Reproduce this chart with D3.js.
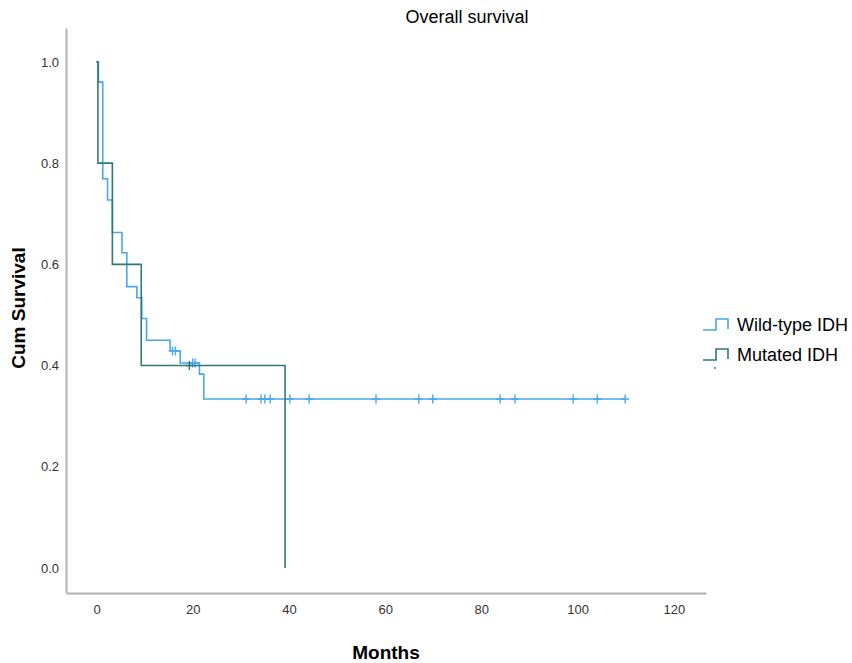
<!DOCTYPE html>
<html lang="en">
<head>
	<meta charset="UTF-8">
	<title>Overall survival</title>
	<script src="https://cdn.jsdelivr.net/npm/d3@7"></script>
	<style>
		html, body{
			margin: 0;
			background: #fff;
		}
		svg{
			display: block;
			font-family: "Liberation Sans", Arial, sans-serif;
		}
		.axis text{
			font-size: 13px;
			fill: #333;
		}
		.axis path{
			stroke: #b3b3b3;
			stroke-width: 2;
		}
	</style>
</head>
<body>
	<div class="chart"></div>
	<script>
		// Kaplan-Meier steps (months, cumulative survival)
		var wtTime = [0, 0.4, 1.3, 2.3, 3.3, 5.3, 6.3, 8.4, 9.4, 10.4, 15.3, 17.4, 21.4, 22.3, 110];
		var wtSurv = [1.0, 0.96, 0.769, 0.727, 0.663, 0.623, 0.556, 0.534, 0.493, 0.450, 0.429, 0.405, 0.383, 0.334, 0.334];
		var wtCensor = [15.8, 16.4, 20.0, 20.5, 31.1, 34.2, 35.0, 36.1, 40.2, 44.2, 58.1, 67.0, 69.9, 83.9, 87.0, 99.1, 104.1, 109.9];

		var mutTime = [0, 0.3, 3.3, 9.3, 39.2, 39.2];
		var mutSurv = [1.0, 0.8, 0.6, 0.4, 0.0, 0.0];
		var mutCensor = [19.3];

		var groups = ['Wild-type IDH', 'Mutated IDH'];
		var colors = ['#49a7ea', '#2e7a74'];
		var yTicks = [0, 0.2, 0.4, 0.6, 0.8, 1.0];
		var xTicks = [0, 20, 40, 60, 80, 100, 120];

		var width = 852;
		var height = 663;
		var plot = { left: 66, right: 706, top: 28, bottom: 593 };

		var xScale = d3.scaleLinear()
						.domain([-6.34, 126.7])
						.range([plot.left, plot.right]);
		var yScale = d3.scaleLinear()
						.domain([-0.0494, 1.067])
						.range([plot.bottom, plot.top]);

		var svg = d3.select('.chart')
					.append('svg')
					.attr('width', width)
					.attr('height', height);

		var yAxis = d3.axisLeft(yScale)
						.tickValues(yTicks)
						.tickFormat(d3.format('.1f'))
						.tickSizeInner(0)
						.tickSizeOuter(0)
						.tickPadding(7);
		var xAxis = d3.axisBottom(xScale)
						.tickValues(xTicks)
						.tickSizeInner(0)
						.tickSizeOuter(0)
						.tickPadding(12);

		svg.append('g')
			.attr('class', 'axis')
			.attr('transform', 'translate(' + plot.left + ',0)')
			.call(yAxis);
		svg.append('g')
			.attr('class', 'axis')
			.attr('transform', 'translate(0,' + plot.bottom + ')')
			.call(xAxis);

		// step lines
		var stepLine = d3.line()
						.x(function(d){ return xScale(d[0]); })
						.y(function(d){ return yScale(d[1]); })
						.curve(d3.curveStepAfter);

		var series = [
			{ time: wtTime, surv: wtSurv, censor: wtCensor },
			{ time: mutTime, surv: mutSurv, censor: mutCensor }
		];

		function survAt(s, t){
			var i = d3.bisectRight(s.time, t) - 1;
			return s.surv[Math.max(0, i)];
		}

		series.forEach(function(s, k){
			var pts = s.time.map(function(t, i){ return [t, s.surv[i]]; });
			svg.append('path')
				.attr('d', stepLine(pts))
				.attr('fill', 'none')
				.attr('stroke', colors[k])
				.attr('stroke-width', 1.6);

			svg.append('g')
				.selectAll('path')
				.data(s.censor)
				.enter()
				.append('path')
				.attr('d', function(t){
					var cx = xScale(t), cy = yScale(survAt(s, t));
					return 'M' + cx + ',' + (cy - 4.5) + 'V' + (cy + 4.5) + 'M' + (cx - 4) + ',' + cy + 'H' + (cx + 4);
				})
				.attr('stroke', colors[k])
				.attr('stroke-width', 1.4);
		});

		// legend
		var legend = svg.append('g').attr('transform', 'translate(703,330)');
		groups.forEach(function(g, k){
			var row = legend.append('g').attr('transform', 'translate(0,' + (k * 30) + ')');
			row.append('path')
				.attr('d', 'M0,0H13V-11H25V-1')
				.attr('fill', 'none')
				.attr('stroke', colors[k])
				.attr('stroke-width', 1.6);
			row.append('text')
				.attr('x', 34)
				.attr('y', 1)
				.style('font-size', '18px')
				.attr('fill', '#000')
				.text(g);
		});
		legend.append('rect')
			.attr('x', 11)
			.attr('y', 37)
			.attr('width', 2)
			.attr('height', 2)
			.attr('fill', colors[0]);

		// titles
		svg.append('text')
			.attr('x', 467)
			.attr('y', 23)
			.attr('text-anchor', 'middle')
			.style('font-size', '18px')
			.attr('fill', '#000')
			.text('Overall survival');
		svg.append('text')
			.attr('x', 386)
			.attr('y', 659)
			.attr('text-anchor', 'middle')
			.style('font-size', '19px')
			.style('font-weight', 'bold')
			.attr('fill', '#000')
			.text('Months');
		svg.append('text')
			.attr('transform', 'translate(25,308) rotate(-90)')
			.attr('text-anchor', 'middle')
			.style('font-size', '19px')
			.style('font-weight', 'bold')
			.attr('fill', '#000')
			.text('Cum Survival');
	</script>
</body>
</html>
